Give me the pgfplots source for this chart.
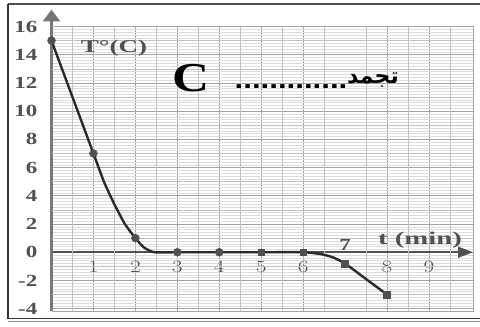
\documentclass[border=0pt]{standalone}
\usepackage{fontspec}
\setmainfont{Liberation Serif}
\newfontfamily\arabicfont[Script=Arabic]{DejaVu Sans}
\newfontfamily\sansfont{Liberation Sans}
\TeXXeTstate=1
\usepackage{pgfplots}
\pgfplotsset{compat=1.18}
\usetikzlibrary{arrows.meta}

\definecolor{gridfine}{HTML}{DCDCDC}
\definecolor{gridmid}{HTML}{C2C2C2}
\definecolor{gridmaj}{HTML}{A4A4A4}
\definecolor{labgray}{HTML}{505050}
\definecolor{axgray}{HTML}{777777}
\definecolor{curve}{HTML}{2A2A2A}

\begin{document}
\begin{tikzpicture}[x=1pt,y=1pt]
\useasboundingbox (0,0) rectangle (480,327);
% outer frame
\draw[line width=2pt,black!70] (8,323) -- (480,323);
\draw[line width=1.6pt,black!80] (8,323) -- (8,8.5) -- (480,8.5);
\draw[line width=0.8pt,black!45] (8,5.5) -- (480,5.5);

\begin{axis}[at={(51.5pt,15.5pt)},anchor=south west,scale only axis,
    width=421.5pt,height=285pt,
    xmin=0,xmax=10.05,ymin=-4.2,ymax=16,
    axis x line=middle,axis y line=left,
    x axis line style={-{Triangle[width=11pt,length=15pt]},line width=1.6pt,color=labgray},
    y axis line style={-{Triangle[width=17pt,length=12pt]},line width=3.5pt,color=axgray,shorten >=-17pt},
    xtick={1,2,3,4,5,6,8,9},ytick={-4,-2,...,16},
    yticklabels={-4,-2,0,2,4,6,8,10,12,14,16},
    extra x ticks={7},extra x tick labels={7},
    extra x tick style={xticklabel style={anchor=south,yshift=4pt},grid=none},
    minor x tick num=9,minor y tick num=9,
    major tick length=0pt,minor tick length=0pt,
    grid=both,
    major grid style={gridmaj,line width=0.7pt},
    minor grid style={gridfine,line width=0.5pt},
    tick label style={font=\bfseries\fontsize{17}{17}\selectfont,color=labgray,xscale=1.35},
    xticklabel style={anchor=north,yshift=-6pt},
    yticklabel style={anchor=east,xshift=-7pt},
    clip=false]
  \pgfplotsinvokeforeach{0.5,1.5,...,9.5}{\draw[gridmid,line width=0.6pt] (axis cs:#1,-4.2) -- (axis cs:#1,16);}
  \pgfplotsinvokeforeach{-3,-1,...,15}{\draw[gridmid,line width=0.6pt] (axis cs:0,#1) -- (axis cs:10.05,#1);}
  \draw[gridmaj,line width=0.7pt] (rel axis cs:0,1) -- (rel axis cs:1,1) -- (rel axis cs:1,0) -- (rel axis cs:0,0);
  \addplot[curve,line width=2.4pt,smooth,tension=0.35] coordinates {
    (0,15)(1,7)(1.25,5.0)(1.5,3.4)(1.75,2.0)(2,1)(2.2,0.35)(2.45,0)(3,0)(4,0)(5,0)
    (6,0)(6.4,-0.12)(6.7,-0.35)(7,-0.8)(7.5,-1.9)(8,-3)};
  \addplot[only marks,mark=*,mark size=4pt,labgray] coordinates {
    (0,15)(1,7)(2,1)(3,0)(4,0)};
  \addplot[only marks,mark=square*,mark size=3.4pt,labgray] coordinates {
    (5,0)(6,0)(7,-0.8)(8,-3)};
\end{axis}

\node[labgray,font=\bfseries\fontsize{18}{18}\selectfont,xscale=1.5] at (114,279) {T°(C)};
\node[black,font=\bfseries\fontsize{41}{41}\selectfont,xscale=1.25] at (191,249) {C};
\node[black,font=\sansfont\bfseries\fontsize{26}{26}\selectfont,xscale=1.2] at (291,240) {.............};
\node[black,font=\arabicfont\bfseries\fontsize{22}{22}\selectfont] at (373,247) {\beginR تجمد\endR};
\node[labgray,font=\bfseries\fontsize{18}{18}\selectfont,xscale=1.6] at (420,87) {t (min)};
\end{tikzpicture}
\end{document}
